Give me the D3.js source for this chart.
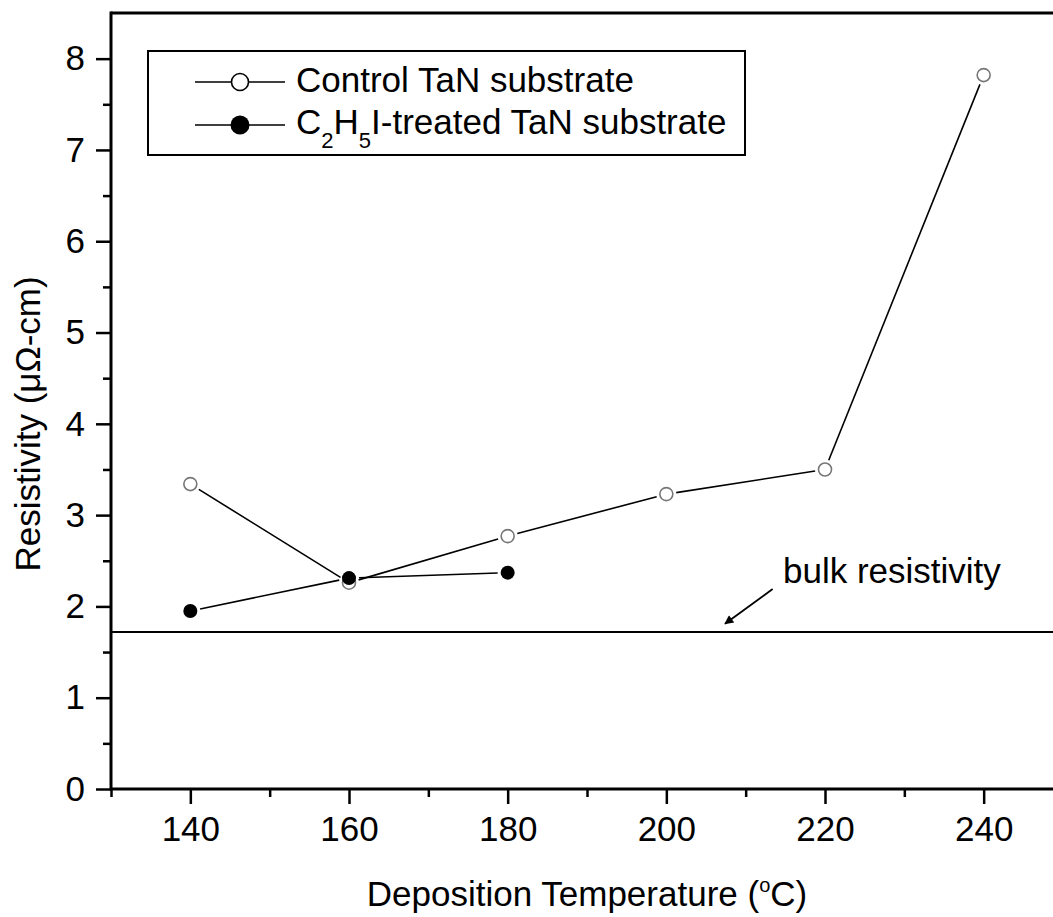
<!DOCTYPE html>
<html>
<head>
<meta charset="utf-8">
<script src="https://cdn.jsdelivr.net/npm/d3@7"></script>
<style>
  body { margin: 0; background: #fff; }
  svg { display: block; font-family: "Liberation Sans", Arial, sans-serif; }
</style>
</head>
<body>
<div id="chart"></div>
<script>
// data
const temps = [140, 160, 180, 200, 220, 240];
const controlValues = [3.34, 2.26, 2.77, 3.23, 3.50, 7.82];
const treatedTemps = [140, 160, 180];
const treatedValues = [1.95, 2.31, 2.37];
const bulkResistivity = 1.72;
const xMajorTicks = [140, 160, 180, 200, 220, 240];
const xMinorTicks = [130, 150, 170, 190, 210, 230, 250];
const yMajorTicks = [0, 1, 2, 3, 4, 5, 6, 7, 8];
const yMinorTicks = [0.5, 1.5, 2.5, 3.5, 4.5, 5.5, 6.5, 7.5];

const width = 1053, height = 917;
const plot = {left: 111, right: 1063, top: 13, bottom: 789};
const fontFamily = "Liberation Sans, Arial, sans-serif";

const svg = d3.select("#chart")
  .append("svg")
  .attr("width", width)
  .attr("height", height);

const x = d3.scaleLinear().domain([130, 250]).range([plot.left, plot.right]);
const y = d3.scaleLinear().domain([0, 8.5]).range([plot.bottom, plot.top]);

// ticks (outward, origin style)
svg.append("g")
  .attr("transform", `translate(0, ${plot.bottom})`)
  .call(d3.axisBottom(x).tickValues(xMajorTicks).tickSize(15).tickPadding(12).tickFormat(d3.format("d")))
  .call(g => g.select(".domain").remove())
  .call(g => g.selectAll(".tick line").attr("stroke-width", 2.5))
  .call(g => g.selectAll(".tick text").attr("font-size", 35).attr("fill", "#000").attr("font-family", fontFamily));

svg.append("g")
  .attr("transform", `translate(0, ${plot.bottom})`)
  .call(d3.axisBottom(x).tickValues(xMinorTicks).tickSize(8).tickFormat(""))
  .call(g => g.select(".domain").remove())
  .call(g => g.selectAll(".tick line").attr("stroke-width", 2.5));

svg.append("g")
  .attr("transform", `translate(${plot.left}, 0)`)
  .call(d3.axisLeft(y).tickValues(yMajorTicks).tickSize(15).tickPadding(11).tickFormat(d3.format("d")))
  .call(g => g.select(".domain").remove())
  .call(g => g.selectAll(".tick line").attr("stroke-width", 2.5))
  .call(g => g.selectAll(".tick text").attr("font-size", 35).attr("fill", "#000").attr("font-family", fontFamily));

svg.append("g")
  .attr("transform", `translate(${plot.left}, 0)`)
  .call(d3.axisLeft(y).tickValues(yMinorTicks).tickSize(8).tickFormat(""))
  .call(g => g.select(".domain").remove())
  .call(g => g.selectAll(".tick line").attr("stroke-width", 2.5));

// frame lines
svg.append("line")
  .attr("x1", plot.left).attr("x2", plot.right)
  .attr("y1", plot.bottom).attr("y2", plot.bottom)
  .attr("stroke", "#000").attr("stroke-width", 3);
svg.append("line")
  .attr("x1", plot.left).attr("x2", plot.right)
  .attr("y1", plot.top).attr("y2", plot.top)
  .attr("stroke", "#000").attr("stroke-width", 3);
svg.append("line")
  .attr("x1", plot.left).attr("x2", plot.left)
  .attr("y1", plot.top - 1.5).attr("y2", plot.bottom + 1.5)
  .attr("stroke", "#000").attr("stroke-width", 3);

// bulk resistivity line
svg.append("line")
  .attr("x1", plot.left).attr("x2", plot.right)
  .attr("y1", y(bulkResistivity)).attr("y2", y(bulkResistivity))
  .attr("stroke", "#000").attr("stroke-width", 2);

// arrow + label
svg.append("defs").append("marker")
  .attr("id", "arrow")
  .attr("viewBox", "0 0 10 10")
  .attr("refX", 9).attr("refY", 5)
  .attr("markerWidth", 11).attr("markerHeight", 9)
  .attr("markerUnits", "userSpaceOnUse")
  .attr("orient", "auto")
  .append("path")
  .attr("d", "M0,0 L10,5 L0,10 z")
  .attr("fill", "#000");

svg.append("line")
  .attr("x1", x(213.4)).attr("y1", y(2.19))
  .attr("x2", x(207.4)).attr("y2", y(1.81))
  .attr("stroke", "#000").attr("stroke-width", 1.8)
  .attr("marker-end", "url(#arrow)");

svg.append("text")
  .attr("x", x(214.7)).attr("y", y(2.26))
  .attr("font-size", 35)
  .text("bulk resistivity");

// lines with small gaps at the markers
const gap = 10;
function drawSeries(xs, ys, color) {
  const pts = xs.map((d, i) => [x(d), y(ys[i])]);
  for (let i = 0; i < pts.length - 1; i++) {
    const [x1, y1] = pts[i], [x2, y2] = pts[i + 1];
    const len = Math.hypot(x2 - x1, y2 - y1);
    const ux = (x2 - x1) / len, uy = (y2 - y1) / len;
    svg.append("line")
      .attr("x1", x1 + ux * gap).attr("y1", y1 + uy * gap)
      .attr("x2", x2 - ux * gap).attr("y2", y2 - uy * gap)
      .attr("stroke", color).attr("stroke-width", 1.6);
  }
}

drawSeries(temps, controlValues, "#000");
drawSeries(treatedTemps, treatedValues, "#000");

svg.selectAll("circle.control")
  .data(temps)
  .join("circle")
  .attr("class", "control")
  .attr("cx", d => x(d))
  .attr("cy", (d, i) => y(controlValues[i]))
  .attr("r", 6.5)
  .attr("fill", "#fff")
  .attr("stroke", "#777")
  .attr("stroke-width", 1.6);

svg.selectAll("circle.treated")
  .data(treatedTemps)
  .join("circle")
  .attr("class", "treated")
  .attr("cx", d => x(d))
  .attr("cy", (d, i) => y(treatedValues[i]))
  .attr("r", 7)
  .attr("fill", "#000");

// legend
const legend = svg.append("g");
legend.append("rect")
  .attr("x", 148).attr("y", 51)
  .attr("width", 597).attr("height", 104)
  .attr("fill", "none")
  .attr("stroke", "#000")
  .attr("stroke-width", 2);

const legendRows = [
  {y: 82, open: true},
  {y: 125, open: false}
];
legendRows.forEach(r => {
  legend.append("line")
    .attr("x1", 195).attr("x2", 231).attr("y1", r.y).attr("y2", r.y)
    .attr("stroke", "#000").attr("stroke-width", 1.6);
  legend.append("line")
    .attr("x1", 249).attr("x2", 285).attr("y1", r.y).attr("y2", r.y)
    .attr("stroke", "#000").attr("stroke-width", 1.6);
  legend.append("circle")
    .attr("cx", 240).attr("cy", r.y)
    .attr("r", r.open ? 8.5 : 9.5)
    .attr("fill", r.open ? "#fff" : "#000")
    .attr("stroke", "#000")
    .attr("stroke-width", r.open ? 1.6 : 0);
});

legend.append("text")
  .attr("x", 296).attr("y", 92)
  .attr("font-size", 35)
  .text("Control TaN substrate");

const t2 = legend.append("text")
  .attr("x", 296).attr("y", 134)
  .attr("font-size", 35);
t2.append("tspan").text("C");
t2.append("tspan").attr("font-size", 22).attr("dy", 14).text("2");
t2.append("tspan").attr("dy", -14).text("H");
t2.append("tspan").attr("font-size", 22).attr("dy", 14).text("5");
t2.append("tspan").attr("dy", -14).text("I-treated TaN substrate");

// axis titles
const xt = svg.append("text")
  .attr("x", 587).attr("y", 906)
  .attr("text-anchor", "middle")
  .attr("font-size", 35);
xt.append("tspan").text("Deposition Temperature (");
xt.append("tspan").attr("font-size", 20).attr("dy", -14).text("o");
xt.append("tspan").attr("dy", 14).text("C)");

svg.append("text")
  .attr("transform", `translate(40, 424) rotate(-90)`)
  .attr("text-anchor", "middle")
  .attr("font-size", 35)
  .text("Resistivity (μΩ-cm)");
</script>
</body>
</html>
